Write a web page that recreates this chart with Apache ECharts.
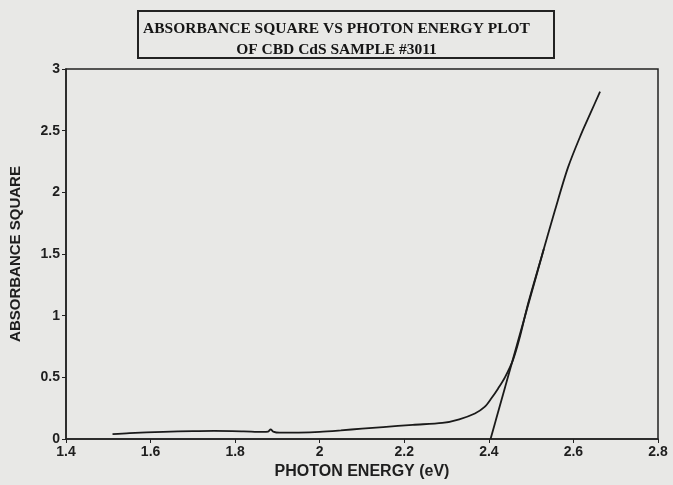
<!DOCTYPE html>
<html>
<head>
<meta charset="utf-8">
<script src="https://cdn.jsdelivr.net/npm/echarts@6/dist/echarts.min.js"></script>
<style>
  html, body { margin: 0; padding: 0; background: #e8e8e6; }
  #main { width: 673px; height: 485px; }
</style>
</head>
<body>
<div id="main"></div>
<script>
var chartDom = document.getElementById('main');
var myChart = echarts.init(chartDom);

// measured curve: photon energy (eV) vs absorbance^2
const energy = [1.51, 1.55, 1.63, 1.70, 1.75, 1.82, 1.865, 1.878, 1.884, 1.89, 1.905, 1.95, 2.00, 2.05, 2.10, 2.15, 2.22, 2.29, 2.33, 2.367, 2.39, 2.406, 2.422, 2.438, 2.457, 2.472, 2.493, 2.524, 2.556, 2.587, 2.618, 2.64, 2.663];
const absSquare = [0.04, 0.048, 0.058, 0.064, 0.066, 0.062, 0.057, 0.06, 0.078, 0.06, 0.051, 0.052, 0.058, 0.07, 0.084, 0.097, 0.115, 0.13, 0.16, 0.207, 0.26, 0.33, 0.41, 0.50, 0.64, 0.81, 1.10, 1.47, 1.85, 2.20, 2.47, 2.64, 2.816];

// linear fit line (band gap extrapolation)
const fitEnergy = [2.404, 2.53];
const fitAbs = [0, 1.54];

const titleLines = ['ABSORBANCE SQUARE VS PHOTON ENERGY PLOT', 'OF CBD CdS SAMPLE #3011'];

const curveData = energy.map(function (e, i) { return [e, absSquare[i]]; });
const fitData = fitEnergy.map(function (e, i) { return [e, fitAbs[i]]; });

const axisFont = {
    color: '#1e1e1e',
    fontFamily: 'Liberation Sans, Arial, sans-serif',
    fontWeight: 'bold',
    fontSize: 14
};

let option = {
    backgroundColor: '#e8e8e6',
    animation: false,
    title: {
        text: titleLines.join('\n'),
        left: 'center',
        top: 13,
        textStyle: {
            fontFamily: 'Liberation Serif, Times New Roman, serif',
            fontWeight: 'bold',
            fontSize: 15.5,
            lineHeight: 21,
            color: '#151515'
        }
    },
    graphic: [
        {
            type: 'rect',
            shape: { x: 138, y: 11, width: 416, height: 47 },
            style: { fill: 'none', stroke: '#222', lineWidth: 2 }
        }
    ],
    grid: {
        left: 63,
        right: 15,
        top: 69,
        bottom: 46,
        show: true,
        borderColor: '#222',
        borderWidth: 1.5
    },
    xAxis: {
        type: 'value',
        min: 1.4,
        max: 2.8,
        interval: 0.2,
        name: 'PHOTON ENERGY (eV)',
        nameLocation: 'middle',
        nameGap: 25,
        nameTextStyle: {
            color: '#1e1e1e',
            fontFamily: 'Liberation Sans, Arial, sans-serif',
            fontWeight: 'bold',
            fontSize: 16
        },
        axisLine: { lineStyle: { color: '#222', width: 1.5 } },
        axisTick: { show: true, length: 4, lineStyle: { color: '#222' } },
        axisLabel: Object.assign({ margin: 6 }, axisFont),
        splitLine: { show: false }
    },
    yAxis: {
        type: 'value',
        min: 0,
        max: 3,
        interval: 0.5,
        name: 'ABSORBANCE SQUARE',
        nameLocation: 'middle',
        nameGap: 43,
        nameTextStyle: {
            color: '#1e1e1e',
            fontFamily: 'Liberation Sans, Arial, sans-serif',
            fontWeight: 'bold',
            fontSize: 15
        },
        axisLine: { lineStyle: { color: '#222', width: 1.5 } },
        axisTick: { show: true, length: 4, lineStyle: { color: '#222' } },
        axisLabel: Object.assign({ margin: 6 }, axisFont),
        splitLine: { show: false }
    },
    series: [
        {
            type: 'line',
            data: curveData,
            smooth: 0.3,
            showSymbol: false,
            lineStyle: { color: '#1a1a1a', width: 1.8 }
        },
        {
            type: 'line',
            data: fitData,
            showSymbol: false,
            lineStyle: { color: '#1a1a1a', width: 1.8 }
        }
    ]
};

option && myChart.setOption(option);
</script>
</body>
</html>
